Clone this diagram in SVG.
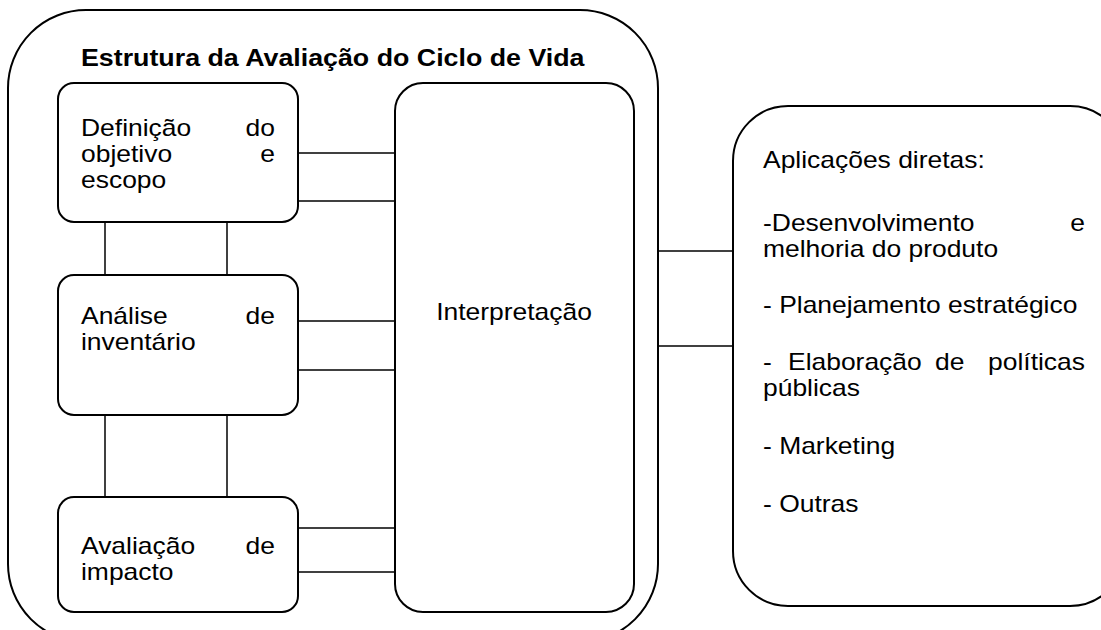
<svg xmlns="http://www.w3.org/2000/svg" width="1101" height="630" viewBox="0 0 1101 630">
<style>
.b{fill:#fff;stroke:#000;stroke-width:2}
.c{stroke:#000;stroke-width:1.5;fill:none}
text{font-family:"Liberation Sans",Arial,sans-serif;font-size:23px;fill:#000}
.e{text-anchor:end}
.m{text-anchor:middle}
.t{font-weight:bold;font-size:23.5px}
</style>
<rect width="1101" height="630" fill="#fff"/>
<g id="outer">
<rect class="b" x="8" y="10" width="650" height="632" rx="78" ry="78"/>
<text class="t" transform="matrix(1.14 0 0 1 81 66)">Estrutura da Avaliação do Ciclo de Vida</text>
</g>
<g id="connectors">
<line class="c" x1="298" y1="153" x2="395" y2="153"/>
<line class="c" x1="298" y1="201" x2="395" y2="201"/>
<line class="c" x1="298" y1="321" x2="395" y2="321"/>
<line class="c" x1="298" y1="370" x2="395" y2="370"/>
<line class="c" x1="298" y1="528" x2="395" y2="528"/>
<line class="c" x1="298" y1="572" x2="395" y2="572"/>
<line class="c" x1="105" y1="222" x2="105" y2="275"/>
<line class="c" x1="227" y1="222" x2="227" y2="275"/>
<line class="c" x1="105" y1="415" x2="105" y2="497"/>
<line class="c" x1="227" y1="415" x2="227" y2="497"/>
<line class="c" x1="658" y1="251" x2="733" y2="251"/>
<line class="c" x1="658" y1="346" x2="733" y2="346"/>
</g>
<g id="definicao">
<rect class="b" x="58" y="83" width="240" height="139" rx="16"/>
<text transform="matrix(1.15 0 0 1 81 136)">Definição</text><text class="e" transform="matrix(1.15 0 0 1 275 136)">do</text>
<text transform="matrix(1.15 0 0 1 81 162)">objetivo</text><text class="e" transform="matrix(1.15 0 0 1 275 162)">e</text>
<text transform="matrix(1.15 0 0 1 81 188)">escopo</text>
</g>
<g id="analise">
<rect class="b" x="58" y="275" width="240" height="140" rx="16"/>
<text transform="matrix(1.15 0 0 1 81 324)">Análise</text><text class="e" transform="matrix(1.15 0 0 1 275 324)">de</text>
<text transform="matrix(1.15 0 0 1 81 350)">inventário</text>
</g>
<g id="avaliacao">
<rect class="b" x="58" y="497" width="240" height="115" rx="16"/>
<text transform="matrix(1.15 0 0 1 81 554)">Avaliação</text><text class="e" transform="matrix(1.15 0 0 1 275 554)">de</text>
<text transform="matrix(1.15 0 0 1 81 580)">impacto</text>
</g>
<g id="interpretacao">
<rect class="b" x="395" y="83" width="239" height="529" rx="28"/>
<text class="m" transform="matrix(1.15 0 0 1 514 320)">Interpretação</text>
</g>
<g id="aplicacoes">
<rect class="b" x="733" y="106" width="392" height="500" rx="55"/>
<text transform="matrix(1.15 0 0 1 763 168)">Aplicações diretas:</text>
<text transform="matrix(1.15 0 0 1 763 231)">-Desenvolvimento</text><text class="e" transform="matrix(1.15 0 0 1 1085 231)">e</text>
<text transform="matrix(1.15 0 0 1 763 257)">melhoria do produto</text>
<text transform="matrix(1.15 0 0 1 763 313)">- Planejamento estratégico</text>
<text transform="matrix(1.15 0 0 1 763 370)">-</text><text transform="matrix(1.15 0 0 1 788 370)">Elaboração</text><text transform="matrix(1.15 0 0 1 935 370)">de</text><text class="e" transform="matrix(1.15 0 0 1 1085 370)">políticas</text>
<text transform="matrix(1.15 0 0 1 763 396)">públicas</text>
<text transform="matrix(1.15 0 0 1 763 454)">- Marketing</text>
<text transform="matrix(1.15 0 0 1 763 512)">- Outras</text>
</g>
</svg>
